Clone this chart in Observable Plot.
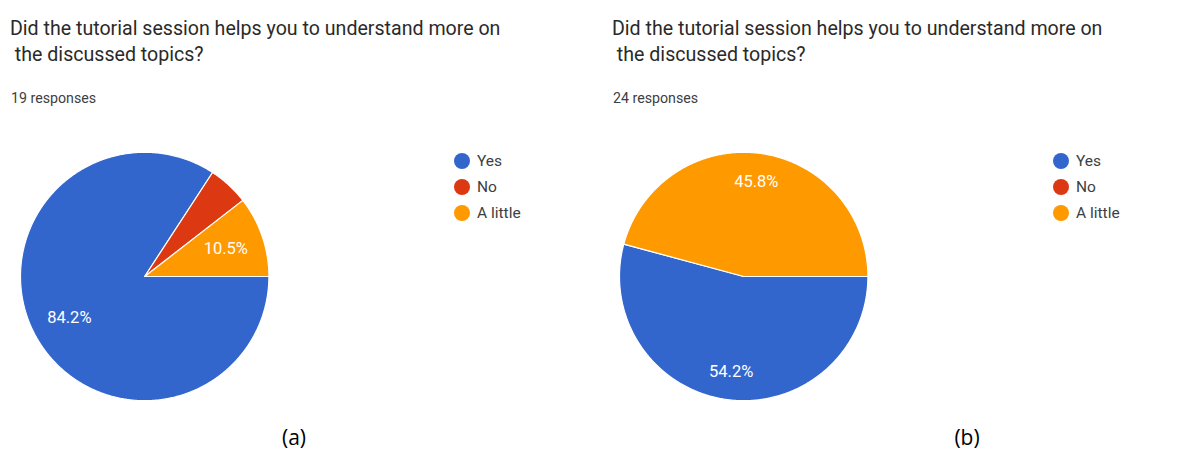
<!DOCTYPE html>
<html><head><meta charset="utf-8">
<script src="https://cdn.jsdelivr.net/npm/d3@7"></script>
<script src="https://cdn.jsdelivr.net/npm/@observablehq/plot@0.6"></script>
<style>
body{margin:0;background:#fff;width:1180px;height:450px;position:relative;overflow:hidden;font-family:Roboto,"Noto Sans",sans-serif;}
.panel{position:absolute;top:0;width:590px;height:450px;}
.title{position:absolute;font-size:19.6px;color:#2a2a2a;line-height:26px;white-space:pre;top:16px;}
.resp{position:absolute;font-size:14.2px;color:#3c4043;line-height:16px;top:90px;white-space:pre;}
.legend{position:absolute;left:454px;top:148px;font-size:15.5px;color:#3c4043;}
.legend .row{display:flex;align-items:center;height:26px;}
.legend .sw{display:inline-block;width:16px;height:16px;border-radius:50%;margin-right:7px;}
.plotwrap{position:absolute;left:0;top:130px;}
.cap{position:absolute;top:424px;font-family:"Open Sans","Noto Sans",sans-serif;font-size:21px;color:#000;transform:translateX(-50%);line-height:26px;}
</style></head>
<body>
<script>
// ---- data ----
const answers = ["Yes", "No", "A little"];
const colors = ["#3366cc", "#dc3912", "#ff9900"];
const titleLines = ["Did the tutorial session helps you to understand more on", " the discussed topics?"];
const responsesA = "19 responses";
const responsesB = "24 responses";
const sharesA = [84.2, 5.3, 10.5];   // percent
const sharesB = [54.2, 0, 45.8];     // percent
const captions = ["(a)", "(b)"];

// ---- helpers ----
function pieData(shares, labelRadius) {
  const total = d3.sum(shares);
  const pts = [], labels = [];
  let acc = 0;
  shares.forEach((v, i) => {
    if (v <= 0) return;
    const a0 = 90 + acc / total * 360; acc += v;
    const a1 = 90 + acc / total * 360;
    const n = Math.max(4, Math.ceil((a1 - a0) * 2));
    pts.push({answer: answers[i], x: 0, y: 0});
    for (let k = 0; k <= n; k++) {
      const a = (a0 + (a1 - a0) * k / n) * Math.PI / 180;
      pts.push({answer: answers[i], x: Math.sin(a), y: Math.cos(a)});
    }
    if (v >= 8) {
      const m = ((a0 + a1) / 2) * Math.PI / 180;
      labels.push({x: labelRadius * Math.sin(m), y: labelRadius * Math.cos(m), text: v.toFixed(1) + "%"});
    }
  });
  return {pts, labels};
}

function panel(left, titleLeft, respText, shares, labelRadius, caption, capX) {
  const div = document.createElement("div");
  div.className = "panel";
  div.style.left = left + "px";
  const t = document.createElement("div");
  t.className = "title"; t.style.left = titleLeft + "px";
  t.textContent = titleLines.join("\n");
  div.appendChild(t);
  const r = document.createElement("div");
  r.className = "resp"; r.style.left = (titleLeft + 1) + "px";
  r.textContent = respText;
  div.appendChild(r);

  const {pts, labels} = pieData(shares, labelRadius);
  const chart = Plot.plot({
    width: 590, height: 280, margin: 0,
    style: {background: "transparent", fontFamily: "Roboto, sans-serif"},
    x: {domain: [-1, 1], range: [20, 268.4], axis: null},
    y: {domain: [-1, 1], range: [270.2, 21.8], axis: null},
    color: {domain: answers, range: colors},
    marks: [
      Plot.line(pts, {x: "x", y: "y", z: "answer", fill: "answer", stroke: "white", strokeWidth: 1.2, curve: "linear-closed"}),
      Plot.text(labels, {x: "x", y: "y", text: "text", fill: "white", fontSize: 16.5})
    ]
  });
  const w = document.createElement("div");
  w.className = "plotwrap";
  w.appendChild(chart);
  div.appendChild(w);

  const leg = document.createElement("div");
  leg.className = "legend";
  answers.forEach((a, i) => {
    const row = document.createElement("div"); row.className = "row";
    const sw = document.createElement("span"); sw.className = "sw"; sw.style.background = chart.scale("color").apply(a);
    const tx = document.createElement("span"); tx.textContent = a;
    row.appendChild(sw); row.appendChild(tx); leg.appendChild(row);
  });
  div.appendChild(leg);
  document.body.appendChild(div);

  const c = document.createElement("div");
  c.className = "cap"; c.style.left = capX + "px"; c.textContent = caption;
  document.body.appendChild(c);
}

panel(0, 10, responsesA, sharesA, 0.69, captions[0], 294);
panel(599, 13, responsesB, sharesB, 0.77, captions[1], 967);
</script>
</body></html>
